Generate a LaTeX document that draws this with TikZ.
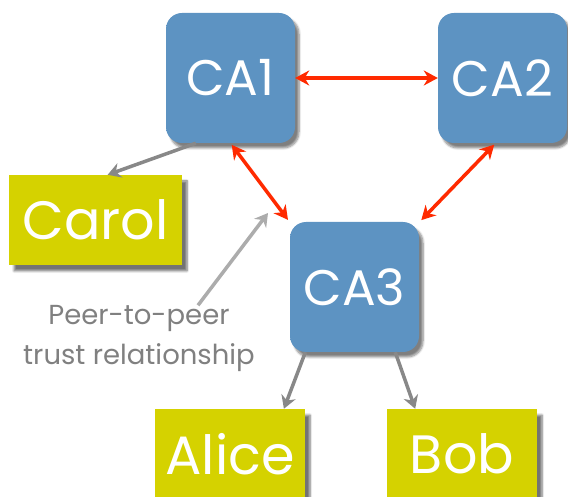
\documentclass[tikz,border=0pt]{standalone}
\usepackage{fontspec}
\setmainfont{Poppins}
\usepackage{tikz}
\usetikzlibrary{arrows.meta,shadows.blur}

\definecolor{caBlue}{RGB}{93,147,194}
\definecolor{caTop}{RGB}{122,175,222}
\definecolor{userYellow}{RGB}{213,210,0}
\definecolor{trustRed}{RGB}{255,42,0}
\definecolor{linkGray}{RGB}{136,136,136}
\definecolor{noteGray}{RGB}{128,128,128}

\pgfdeclareverticalshading{caShade}{100bp}{color(0bp)=(caBlue); color(82bp)=(caBlue); color(100bp)=(caTop)}

\begin{document}
\begin{tikzpicture}[x=1pt,y=1pt,
      ca/.style={rounded corners=16pt, minimum width=129pt, minimum height=130pt,
                 shading=caShade, text=white, font=\fontsize{50}{50}\selectfont,
                 blur shadow={shadow xshift=4pt, shadow yshift=-5pt, shadow blur steps=6, shadow opacity=50}},
      user/.style={fill=userYellow, text=white, minimum height=90pt,
                   font=\fontsize{54}{54}\selectfont,
                   blur shadow={shadow xshift=5pt, shadow yshift=-6pt, shadow blur steps=6, shadow opacity=55}},
      trust/.style={draw=trustRed, line width=3.5pt, {Stealth[length=14pt,width=15pt]}-{Stealth[length=14pt,width=15pt]}},
      link/.style={draw=linkGray, line width=3.5pt, -{Stealth[length=13pt,width=15pt]}},
      ]
      \useasboundingbox (0,0) rectangle (568,496);
      \clip (0,0) rectangle (568,496);

      \node[ca] (ca1) at (230.5,418) {CA1};
      \node[ca] (ca2) at (502.5,418) {CA2};
      \node[ca] (ca3) at (354.5,209) {CA3};

      \node[user, minimum width=173pt] (carol) at (95.5,276) {Carol};
      \node[user, minimum width=150pt] (alice) at (230,42) {Alice};
      \node[user, minimum width=150pt] (bob) at (462,42) {Bob};

      \node[text=noteGray, align=center, font=\fontsize{27.5}{40}\selectfont] (peer) at (139,158)
            {Peer-to-peer\\trust relationship};
      \coordinate (peertip) at (268,283);

      \draw[trust] (ca1.east) -- (ca2.west);
      \draw[trust, shorten <=2pt, shorten >=3pt] (ca1.south) -- (ca3.135);
      \draw[trust, shorten <=2pt, shorten >=3pt] (ca2.-96) -- (ca3.45);

      \draw[link] (ca1.-118) -- (carol.75);
      \draw[link] (ca3.-127) -- (alice.40);
      \draw[link] (ca3.-58) -- (bob.136);
      \draw[link, draw=linkGray!70] ([xshift=59pt,yshift=-4pt]peer.north) -- (peertip);
\end{tikzpicture}
\end{document}
